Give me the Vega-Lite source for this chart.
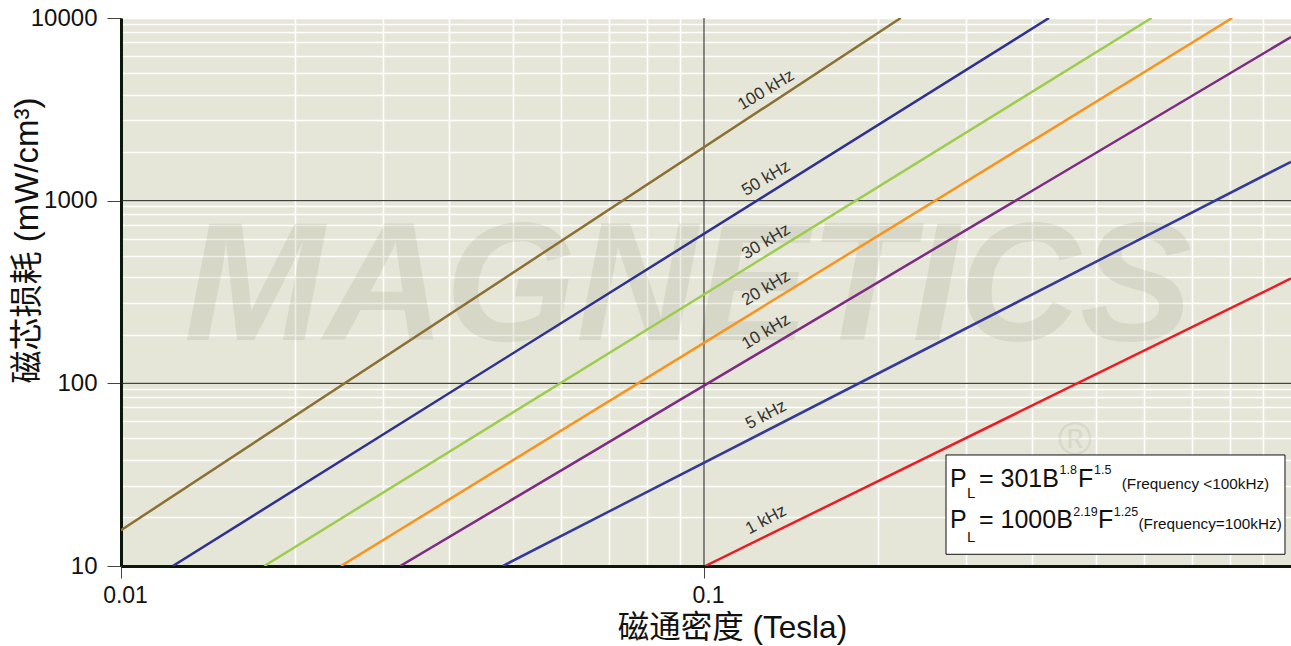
{
  "$schema": "https://vega.github.io/schema/vega-lite/v6.json",
  "width": 1170,
  "height": 548,
  "autosize": {"type": "none"},
  "padding": {"left": 121, "top": 18, "right": 0, "bottom": 80},
  "background": "white",
  "config": {"view": {"fill": "#e5e6d8", "stroke": null}, "font": "Liberation Sans"},
  "datasets": {
    "lines": [
      {"series": "100 kHz", "B": 0.01, "P": 15.7},
      {"series": "100 kHz", "B": 0.2175, "P": 10000},
      {"series": "50 kHz", "B": 0.01227, "P": 10},
      {"series": "50 kHz", "B": 0.3907, "P": 10000},
      {"series": "30 kHz", "B": 0.01761, "P": 10},
      {"series": "30 kHz", "B": 0.5858, "P": 10000},
      {"series": "20 kHz", "B": 0.02384, "P": 10},
      {"series": "20 kHz", "B": 0.8057, "P": 10000},
      {"series": "10 kHz", "B": 0.03013, "P": 10},
      {"series": "10 kHz", "B": 1.016, "P": 7863},
      {"series": "5 kHz", "B": 0.04515, "P": 10},
      {"series": "5 kHz", "B": 1.016, "P": 1633},
      {"series": "1 kHz", "B": 0.1005, "P": 10},
      {"series": "1 kHz", "B": 1.016, "P": 375}
    ],
    "labels": [
      {"t": "100 kHz", "B": 0.1278, "P": 4027, "grp": "a"},
      {"t": "50 kHz", "B": 0.1278, "P": 1325, "grp": "a"},
      {"t": "30 kHz", "B": 0.1278, "P": 596, "grp": "a"},
      {"t": "20 kHz", "B": 0.1278, "P": 332, "grp": "a"},
      {"t": "10 kHz", "B": 0.1278, "P": 191.6, "grp": "a"},
      {"t": "5 kHz", "B": 0.1278, "P": 67.1, "grp": "b"},
      {"t": "1 kHz", "B": 0.1278, "P": 17.9, "grp": "b"}
    ],
    "watermark": [
      {"t": "MAGNETICS", "B": 0.0939, "P": 172.7, "k": "word"},
      {"t": "®", "B": 0.4329, "P": 40.5, "k": "reg"}
    ],
    "majors": [
      {"B": 0.1, "B2": 0.1, "P": 10, "P2": 10000},
      {"B": 0.01, "B2": 1.016, "P": 100, "P2": 100},
      {"B": 0.01, "B2": 1.016, "P": 1000, "P2": 1000}
    ],
    "box": [
      {"B": 0.2601, "B2": 0.9921, "P": 40.53, "P2": 11.59}
    ],
    "formula": [
      {"t": "P", "B": 0.2642, "P": 27.17, "k": "main"},
      {"t": "= 301B", "B": 0.29626, "P": 27.17, "k": "main"},
      {"t": "F", "B": 0.43804, "P": 27.17, "k": "main"},
      {"t": "L", "B": 0.28255, "P": 23.57, "k": "sub"},
      {"t": "1.8", "B": 0.40718, "P": 31.77, "k": "sup"},
      {"t": "1.5", "B": 0.46662, "P": 31.77, "k": "sup"},
      {"t": "(Frequency <100kHz)", "B": 0.5206, "P": 26.4, "k": "note"},
      {"t": "P", "B": 0.2642, "P": 16.09, "k": "main"},
      {"t": "= 1000B", "B": 0.29626, "P": 16.09, "k": "main"},
      {"t": "F", "B": 0.47402, "P": 16.09, "k": "main"},
      {"t": "L", "B": 0.28255, "P": 13.59, "k": "sub"},
      {"t": "2.19", "B": 0.42996, "P": 18.78, "k": "sup"},
      {"t": "1.25", "B": 0.50457, "P": 18.78, "k": "sup"},
      {"t": "(Frequency=100kHz)", "B": 0.55627, "P": 15.88, "k": "note"}
    ]
  },
  "encoding": {
    "x": {
      "field": "B",
      "type": "quantitative",
      "scale": {"type": "log", "domain": [0.01, 1.016], "nice": false, "zero": false},
      "axis": {
        "title": "磁通密度 (Tesla)",
        "titleFont": "Liberation Sans, Noto Sans CJK SC",
        "titleFontSize": 31.5,
        "titleFontWeight": "normal",
        "titleColor": "#111",
        "titleX": 611,
        "titleY": 71,
        "titleBaseline": "alphabetic",
        "values": [0.01, 0.0199, 0.0282, 0.0365, 0.047, 0.0569, 0.0686, 0.0798, 0.0908, 0.1, 0.199, 0.282, 0.365, 0.47, 0.569, 0.686, 0.798, 0.908],
        "labelExpr": "datum.value === 0.01 ? '0.01' : datum.value === 0.1 ? '0.1' : ''",
        "labelFontSize": 23,
        "labelColor": "#111",
        "labelFlush": false,
        "labelOverlap": false,
        "labelOffset": 4,
        "labelPadding": 6,
        "tickSize": 12,
        "tickColor": "#444",
        "tickOpacity": {"condition": {"test": "datum.value === 0.01 || datum.value === 0.1", "value": 1}, "value": 0},
        "domain": true,
        "domainColor": "#0b170b",
        "domainWidth": 3,
        "grid": true,
        "gridColor": "#ffffff",
        "gridWidth": 1.6,
        "gridOpacity": {"condition": {"test": "datum.value === 0.1", "value": 0}, "value": 1}
      }
    },
    "y": {
      "field": "P",
      "type": "quantitative",
      "scale": {"type": "log", "domain": [10, 10000], "nice": false, "zero": false},
      "axis": {
        "title": "磁芯损耗 (mW/cm³)",
        "titleFont": "Liberation Sans, Noto Sans CJK SC",
        "titleFontSize": 33,
        "titleFontWeight": "normal",
        "titleColor": "#111",
        "titleX": -94,
        "titleY": 222,
        "titleBaseline": "middle",
        "values": [10, 18.5, 27.5, 38, 50, 62, 74, 84, 93, 100, 185, 275, 380, 500, 620, 740, 840, 930, 1000, 1850, 2750, 3800, 5000, 6200, 7400, 8400, 9300, 10000],
        "labelExpr": "(datum.value === 10 || datum.value === 100 || datum.value === 1000 || datum.value === 10000) ? '' + datum.value : ''",
        "labelFontSize": 24,
        "labelColor": "#111",
        "labelFlush": false,
        "labelOverlap": false,
        "labelPadding": 10,
        "tickSize": 14,
        "tickColor": "#444",
        "tickOpacity": {"condition": {"test": "datum.value === 10 || datum.value === 100 || datum.value === 1000 || datum.value === 10000", "value": 1}, "value": 0},
        "domain": true,
        "domainColor": "#0b170b",
        "domainWidth": 3,
        "grid": true,
        "gridColor": "#ffffff",
        "gridWidth": 1.6,
        "gridOpacity": {"condition": {"test": "datum.value === 100 || datum.value === 1000", "value": 0}, "value": 1}
      }
    }
  },
  "layer": [
    {
      "data": {"name": "watermark"},
      "transform": [{"filter": "datum.k === 'word'"}],
      "mark": {"type": "text", "font": "Liberation Sans", "fontSize": 168, "fontWeight": "bold", "fontStyle": "italic", "align": "center", "baseline": "alphabetic", "fill": "#64643c", "opacity": 0.11},
      "encoding": {"text": {"field": "t"}}
    },
    {
      "data": {"name": "watermark"},
      "transform": [{"filter": "datum.k === 'reg'"}],
      "mark": {"type": "text", "font": "Liberation Sans", "fontSize": 46, "align": "center", "baseline": "alphabetic", "fill": "#64643c", "opacity": 0.1},
      "encoding": {"text": {"field": "t"}}
    },
    {
      "data": {"name": "majors"},
      "mark": {"type": "rule", "stroke": "#222222", "strokeWidth": 1},
      "encoding": {"x2": {"field": "B2"}, "y2": {"field": "P2"}}
    },
    {
      "data": {"name": "lines"},
      "mark": {"type": "line", "strokeWidth": 2.5, "clip": true},
      "encoding": {
        "color": {
          "field": "series",
          "type": "nominal",
          "scale": {
            "domain": ["100 kHz", "50 kHz", "30 kHz", "20 kHz", "10 kHz", "5 kHz", "1 kHz"],
            "range": ["#8c7033", "#2e3192", "#9dcc4f", "#f7941d", "#7e2b83", "#34399a", "#ed1c24"]
          },
          "legend": null
        },
        "detail": {"field": "series"},
        "order": {"field": "B", "type": "quantitative"}
      }
    },
    {
      "data": {"name": "labels"},
      "transform": [{"filter": "datum.grp === 'a'"}],
      "mark": {"type": "text", "font": "Liberation Sans", "fontSize": 17, "angle": -31, "align": "center", "baseline": "middle", "fill": "#333333"},
      "encoding": {"text": {"field": "t"}}
    },
    {
      "data": {"name": "labels"},
      "transform": [{"filter": "datum.grp === 'b'"}],
      "mark": {"type": "text", "font": "Liberation Sans", "fontSize": 17, "angle": -28, "align": "center", "baseline": "middle", "fill": "#333333"},
      "encoding": {"text": {"field": "t"}}
    },
    {
      "data": {"name": "box"},
      "mark": {"type": "rect", "fill": "white", "stroke": "#111111", "strokeWidth": 1},
      "encoding": {"x2": {"field": "B2"}, "y2": {"field": "P2"}}
    },
    {
      "data": {"name": "formula"},
      "transform": [{"filter": "datum.k === 'main'"}],
      "mark": {"type": "text", "font": "Liberation Sans", "fontSize": 25, "align": "left", "baseline": "alphabetic", "fill": "#111111"},
      "encoding": {"text": {"field": "t"}}
    },
    {
      "data": {"name": "formula"},
      "transform": [{"filter": "datum.k === 'sub'"}],
      "mark": {"type": "text", "font": "Liberation Sans", "fontSize": 15, "align": "left", "baseline": "alphabetic", "fill": "#111111"},
      "encoding": {"text": {"field": "t"}}
    },
    {
      "data": {"name": "formula"},
      "transform": [{"filter": "datum.k === 'sup'"}],
      "mark": {"type": "text", "font": "Liberation Sans", "fontSize": 12.5, "align": "left", "baseline": "alphabetic", "fill": "#111111"},
      "encoding": {"text": {"field": "t"}}
    },
    {
      "data": {"name": "formula"},
      "transform": [{"filter": "datum.k === 'note'"}],
      "mark": {"type": "text", "font": "Liberation Sans", "fontSize": 15.3, "align": "left", "baseline": "alphabetic", "fill": "#111111"},
      "encoding": {"text": {"field": "t"}}
    },
    {
      "data": {"values": [{}]},
      "mark": {"type": "rule", "stroke": "#0b170b", "strokeWidth": 3},
      "encoding": {
        "x": {"datum": 0.01, "type": "quantitative"},
        "x2": {"datum": 1.016},
        "y": {"datum": 10000, "type": "quantitative"}
      }
    }
  ]
}
